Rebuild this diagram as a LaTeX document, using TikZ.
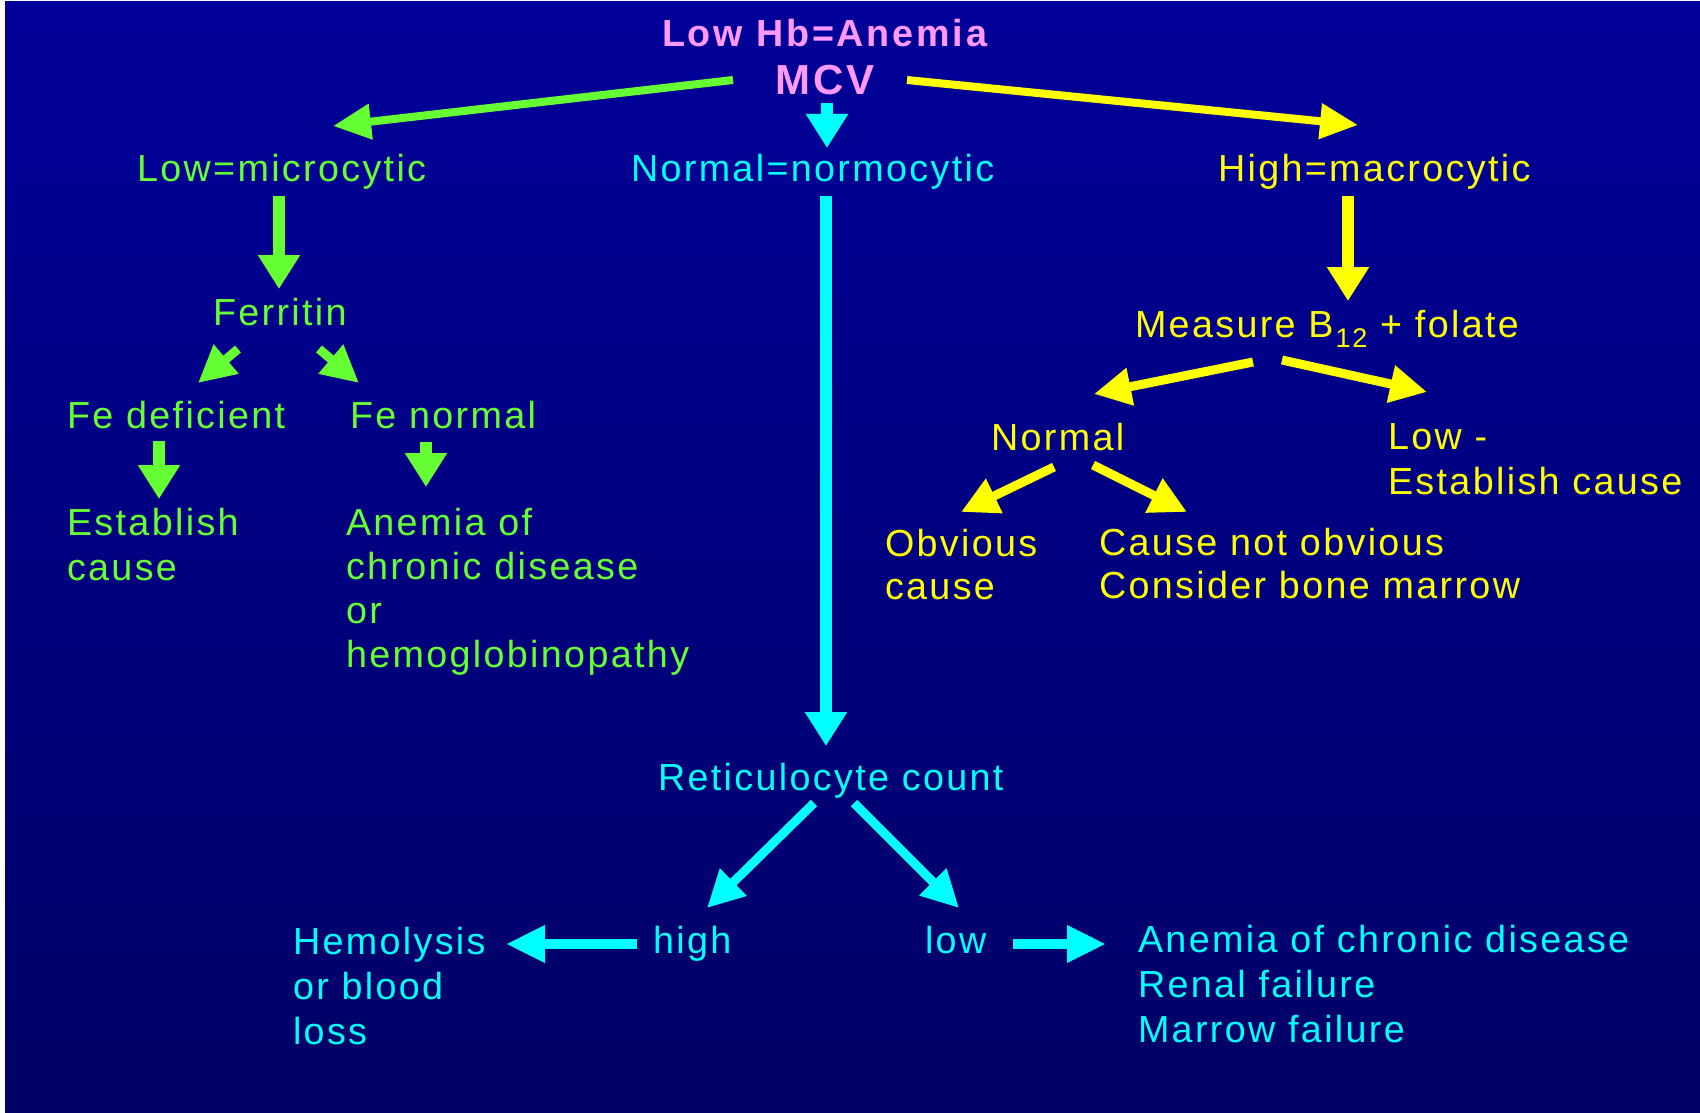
\documentclass[tikz,border=0pt]{standalone}
\usepackage{fontspec}
\setmainfont{Liberation Sans}[LetterSpace=6.2]
\newfontfamily\ttlfont{Liberation Sans}[LetterSpace=7.4]
\usetikzlibrary{arrows.meta}
\definecolor{bgtop}{HTML}{000099}
\definecolor{bgbot}{HTML}{000066}
\definecolor{gr}{HTML}{66FF33}
\definecolor{cy}{HTML}{00FFFF}
\definecolor{ye}{HTML}{FFFF00}
\definecolor{pk}{HTML}{FF99FF}
\begin{document}
\begin{tikzpicture}[x=1pt,y=-1pt,
  txt/.style={anchor=base west, inner sep=0pt, outer sep=0pt, font=\fontsize{37.7}{45}\selectfont},
  ttl/.style={txt, font=\ttlfont\fontsize{37.7}{45}\selectfont\bfseries, text=pk},
  bigv/.style={line width=12pt, -{Triangle[width=40pt,length=34pt]}},
  topl/.style={line width=8pt, -{Triangle[width=34pt,length=38pt]}},
  midarr/.style={line width=9pt, -{Triangle[width=36pt,length=37pt]}},
  hor/.style={line width=10pt, -{Triangle[width=35pt,length=39pt]}}]
\useasboundingbox (0,0) rectangle (1700,1113);
\fill[white] (0,0) rectangle (1700,1113);
\shade[top color=bgtop, bottom color=bgbot] (5,2) rectangle (1700,1113);

% texts
\node[ttl] (title) at (662,47) {Low Hb=Anemia};
\node[ttl, font=\ttlfont\fontsize{42}{45}\selectfont\bfseries] (mcv) at (775,95) {MCV};
\node[txt, text=gr] (lowmic) at (137,182) {Low=microcytic};
\node[txt, text=cy] (normo) at (631,182) {Normal=normocytic};
\node[txt, text=ye] (macro) at (1218,182) {High=macrocytic};
\node[txt, text=gr] (ferritin) at (213,325) {Ferritin};
\node[txt, text=ye] (measure) at (1135,337) {Measure B\kern2pt\raisebox{-10pt}{\fontsize{27}{27}\selectfont 12} + folate};
\node[txt, text=gr] (fedef) at (67,428) {Fe deficient};
\node[txt, text=gr] (fenorm) at (350,428) {Fe normal};
\node[txt, text=ye] (normal) at (991,450) {Normal};
\node[txt, text=ye] (lowb) at (1388,449) {\vtop{\hbox{Low -}\hbox{Establish cause}}};
\node[txt, text=gr] (establish) at (67,535) {\vtop{\hbox{Establish}\hbox{cause}}};
\node[txt, text=gr, font=\fontsize{37.7}{44}\selectfont] (acd) at (346,535) {\vtop{\hbox{Anemia of}\hbox{chronic disease}\hbox{or}\hbox{hemoglobinopathy}}};
\node[txt, text=ye, font=\fontsize{37.7}{43}\selectfont] (obvious) at (885,556) {\vtop{\hbox{Obvious}\hbox{cause}}};
\node[txt, text=ye, font=\fontsize{37.7}{43}\selectfont] (notobv) at (1099,555) {\vtop{\hbox{Cause not obvious}\hbox{Consider bone marrow}}};
\node[txt, text=cy] (retic) at (658,790) {Reticulocyte count};
\node[txt, text=cy] (high) at (653,953) {high};
\node[txt, text=cy] (low) at (925,953) {low};
\node[txt, text=cy] (hemo) at (293,954) {\vtop{\hbox{Hemolysis}\hbox{or blood}\hbox{loss}}};
\node[txt, text=cy] (acdb) at (1138,952) {\vtop{\hbox{Anemia of chronic disease}\hbox{Renal failure}\hbox{Marrow failure}}};

% connector end points
\coordinate (mcvL) at (733,80);   \coordinate (lowmicT) at (333,126);
\coordinate (mcvR) at (907,80);   \coordinate (macroT) at (1358,125);
\coordinate (mcvB) at (827,103);  \coordinate (normoT) at (827,148);
\coordinate (lowmicB) at (279,196); \coordinate (ferritinT) at (279,289);
\coordinate (ferL) at (238,349);  \coordinate (fedefT) at (198,383);
\coordinate (ferR) at (319,349);  \coordinate (fenormT) at (359,383);
\coordinate (fedefB) at (159,441); \coordinate (establishT) at (159,499);
\coordinate (fenormB) at (426,442); \coordinate (acdT) at (426,487);
\coordinate (normoB) at (826,196); \coordinate (reticT) at (826,746);
\coordinate (macroB) at (1348,196); \coordinate (measureT) at (1348,301);
\coordinate (measL) at (1253,362); \coordinate (normalT) at (1094,394);
\coordinate (measR) at (1282,360); \coordinate (lowbT) at (1427,392);
\coordinate (normL) at (1054,467); \coordinate (obviousT) at (961,512);
\coordinate (normR) at (1093,465); \coordinate (notobvT) at (1187,512);
\coordinate (reticL) at (814,803); \coordinate (highT) at (707,908);
\coordinate (reticR) at (854,803); \coordinate (lowT) at (959,908);
\coordinate (highL) at (637,944); \coordinate (hemoT) at (506,944);
\coordinate (lowR) at (1013,944); \coordinate (acdbT) at (1106,944);

% connectors
\draw[topl, gr] (mcvL) -- (lowmicT);
\draw[topl, ye] (mcvR) -- (macroT);
\draw[bigv, cy] (mcvB) -- (normoT);
\draw[bigv, gr] (lowmicB) -- (ferritinT);
\draw[midarr, gr] (ferL) -- (fedefT);
\draw[midarr, gr] (ferR) -- (fenormT);
\draw[bigv, gr] (fedefB) -- (establishT);
\draw[bigv, gr] (fenormB) -- (acdT);
\draw[bigv, cy] (normoB) -- (reticT);
\draw[bigv, ye] (macroB) -- (measureT);
\draw[midarr, ye] (measL) -- (normalT);
\draw[midarr, ye] (measR) -- (lowbT);
\draw[midarr, ye] (normL) -- (obviousT);
\draw[midarr, ye] (normR) -- (notobvT);
\draw[midarr, cy] (reticL) -- (highT);
\draw[midarr, cy] (reticR) -- (lowT);
\draw[hor, cy] (highL) -- (hemoT);
\draw[hor, cy] (lowR) -- (acdbT);
\end{tikzpicture}
\end{document}
